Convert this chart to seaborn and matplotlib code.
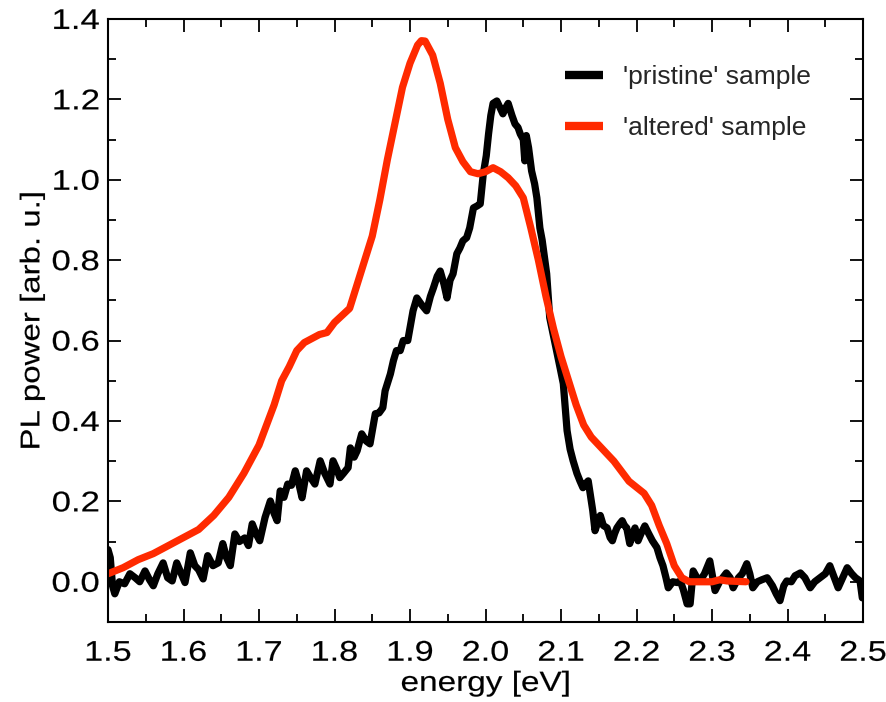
import numpy as np
import pandas as pd
import matplotlib
matplotlib.use("Agg")
import matplotlib.pyplot as plt
import seaborn as sns
from matplotlib.ticker import MultipleLocator
from matplotlib.patheffects import AbstractPathEffect
from matplotlib.transforms import Affine2D

# ---- data ----
pristine_energy = [
    1.500, 1.503, 1.506, 1.509, 1.515, 1.522, 1.529, 1.536, 1.542, 1.549, 1.555, 1.560,
    1.566, 1.573, 1.579, 1.585, 1.591, 1.597, 1.602, 1.609, 1.615, 1.620, 1.626, 1.632,
    1.639, 1.646, 1.652, 1.657, 1.662, 1.668, 1.674, 1.681, 1.686, 1.691, 1.696, 1.701,
    1.708, 1.715, 1.720, 1.724, 1.728, 1.733, 1.738, 1.743, 1.748, 1.752, 1.757, 1.763,
    1.768, 1.774, 1.781, 1.787, 1.794, 1.798, 1.803, 1.807, 1.812, 1.818, 1.821, 1.826,
    1.830, 1.836, 1.842, 1.847, 1.854, 1.859, 1.864, 1.867, 1.874, 1.878, 1.882, 1.887,
    1.891, 1.897, 1.904, 1.909, 1.915, 1.922, 1.927, 1.931, 1.936, 1.940, 1.945, 1.949,
    1.953, 1.957, 1.962, 1.966, 1.970, 1.975, 1.979, 1.984, 1.989, 1.993, 1.997, 2.001,
    2.004, 2.007, 2.010, 2.015, 2.019, 2.023, 2.027, 2.030, 2.035, 2.039, 2.043, 2.046,
    2.050, 2.052, 2.054, 2.057, 2.061, 2.065, 2.068, 2.072, 2.075, 2.081, 2.085, 2.088,
    2.094, 2.099, 2.103, 2.108, 2.112, 2.116, 2.121, 2.125, 2.129, 2.133, 2.136, 2.142,
    2.145, 2.149, 2.152, 2.156, 2.161, 2.165, 2.168, 2.171, 2.174, 2.178, 2.181, 2.184,
    2.187, 2.191, 2.195, 2.198, 2.202, 2.206, 2.211, 2.216, 2.221, 2.227, 2.231, 2.235,
    2.239, 2.242, 2.248, 2.254, 2.258, 2.262, 2.267, 2.271, 2.275, 2.280, 2.284, 2.290,
    2.297, 2.304, 2.310, 2.319, 2.324, 2.328, 2.335, 2.340, 2.346, 2.350, 2.354, 2.360,
    2.366, 2.373, 2.380, 2.385, 2.390, 2.395, 2.399, 2.405, 2.410, 2.417, 2.423, 2.430,
    2.436, 2.443, 2.450, 2.456, 2.462, 2.467, 2.473, 2.479, 2.485, 2.490, 2.496, 2.499,
]
pristine_power = [
    0.080, 0.060, -0.010, -0.030, 0.000, -0.005, 0.020, 0.010, 0.000, 0.027, 0.005, -0.010,
    0.020, 0.047, 0.010, 0.002, 0.047, 0.020, -0.002, 0.072, 0.040, 0.030, 0.007, 0.065,
    0.040, 0.047, 0.095, 0.060, 0.040, 0.119, 0.100, 0.109, 0.090, 0.144, 0.120, 0.102,
    0.160, 0.201, 0.170, 0.152, 0.226, 0.210, 0.243, 0.240, 0.276, 0.250, 0.209, 0.276,
    0.260, 0.243, 0.301, 0.270, 0.243, 0.301, 0.280, 0.259, 0.270, 0.284, 0.333, 0.310,
    0.326, 0.368, 0.350, 0.343, 0.418, 0.420, 0.433, 0.475, 0.517, 0.550, 0.575, 0.575,
    0.600, 0.600, 0.674, 0.706, 0.690, 0.674, 0.710, 0.731, 0.760, 0.773, 0.740, 0.706,
    0.750, 0.766, 0.816, 0.830, 0.848, 0.856, 0.880, 0.930, 0.935, 0.940, 1.014, 1.060,
    1.114, 1.160, 1.190, 1.196, 1.180, 1.164, 1.180, 1.190, 1.160, 1.139, 1.130, 1.114,
    1.100, 1.047, 1.110, 1.080, 1.022, 0.990, 0.955, 0.880, 0.850, 0.766, 0.657, 0.630,
    0.575, 0.530, 0.493, 0.376, 0.330, 0.301, 0.270, 0.251, 0.234, 0.245, 0.251, 0.177,
    0.127, 0.150, 0.165, 0.140, 0.134, 0.110, 0.102, 0.120, 0.134, 0.145, 0.152, 0.140,
    0.134, 0.095, 0.120, 0.134, 0.102, 0.120, 0.139, 0.120, 0.102, 0.085, 0.060, 0.040,
    0.010, -0.015, 0.000, -0.002, 0.002, -0.020, -0.055, -0.055, 0.027, 0.010, 0.002, 0.020,
    0.052, -0.022, 0.000, 0.022, 0.010, -0.015, 0.010, 0.020, 0.045, 0.020, -0.015, 0.000,
    0.005, 0.010, -0.010, -0.030, -0.047, -0.010, 0.002, 0.000, 0.015, 0.022, 0.010, -0.015,
    0.000, 0.010, 0.020, 0.040, 0.010, -0.015, 0.010, 0.035, 0.020, 0.010, 0.002, -0.040,
]

altered_energy = [
    1.50, 1.52, 1.54, 1.56, 1.58, 1.60, 1.62, 1.64, 1.66, 1.68, 1.70, 1.72, 1.73, 1.74,
    1.75, 1.76, 1.78, 1.79, 1.80, 1.82, 1.83, 1.84, 1.85, 1.86, 1.87, 1.88, 1.89, 1.90,
    1.91, 1.915, 1.92, 1.93, 1.94, 1.95, 1.96, 1.97, 1.98, 1.99, 2.00, 2.01, 2.02, 2.03,
    2.04, 2.05, 2.06, 2.07, 2.08, 2.09, 2.10, 2.11, 2.12, 2.13, 2.14, 2.15, 2.16, 2.17,
    2.18, 2.19, 2.20, 2.21, 2.22, 2.23, 2.24, 2.25, 2.26, 2.27, 2.28, 2.30, 2.31, 2.32,
    2.345,
]
altered_power = [
    0.020, 0.035, 0.055, 0.070, 0.090, 0.110, 0.130, 0.165, 0.210, 0.270, 0.340, 0.440,
    0.500, 0.535, 0.575, 0.595, 0.615, 0.620, 0.645, 0.680, 0.740, 0.800, 0.860, 0.950,
    1.050, 1.140, 1.230, 1.290, 1.335, 1.346, 1.345, 1.310, 1.240, 1.150, 1.080, 1.045,
    1.020, 1.015, 1.020, 1.030, 1.020, 1.005, 0.985, 0.955, 0.880, 0.800, 0.710, 0.630,
    0.560, 0.500, 0.440, 0.390, 0.360, 0.340, 0.320, 0.300, 0.275, 0.250, 0.235, 0.220,
    0.190, 0.140, 0.095, 0.040, 0.010, 0.000, 0.000, 0.000, 0.005, 0.002, 0.000,
]

series_labels = ["'pristine' sample", "'altered' sample"]
series_colors = ["#000000", "#ff2a00"]
x_ticks = [1.5, 1.6, 1.7, 1.8, 1.9, 2.0, 2.1, 2.2, 2.3, 2.4, 2.5]
y_ticks = [0.0, 0.2, 0.4, 0.6, 0.8, 1.0, 1.2, 1.4]


class HStretch(AbstractPathEffect):
    """Widen text glyphs along the text direction (the reference uses a wide face)."""

    def __init__(self, sx, anchor="center", lw=0.12):
        super().__init__()
        self.sx = sx
        self.anchor = anchor
        self.lw = lw

    def draw_path(self, renderer, gc, tpath, affine, rgbFace=None):
        ext = tpath.get_extents()
        if self.anchor == "right":
            cx = ext.x1
        elif self.anchor == "left":
            cx = ext.x0
        else:
            cx = 0.5 * (ext.x0 + ext.x1)
        t = Affine2D().translate(-cx, 0).scale(self.sx, 1.0).translate(cx, 0) + affine
        gc0 = renderer.new_gc()
        gc0.copy_properties(gc)
        gc0.set_linewidth(self.lw)
        if rgbFace is not None:
            gc0.set_foreground(rgbFace)
        gc0.set_joinstyle("round")
        renderer.draw_path(gc0, tpath, t, rgbFace)
        gc0.restore()


df = pd.concat([
    pd.DataFrame({"energy": pristine_energy, "power": pristine_power, "sample": series_labels[0]}),
    pd.DataFrame({"energy": altered_energy, "power": altered_power, "sample": series_labels[1]}),
], ignore_index=True)

sns.set_theme(style="ticks")
plt.rcParams["font.family"] = ["Liberation Sans", "DejaVu Sans"]

fig = plt.figure(figsize=(8.86, 7.02), dpi=100)
ax = fig.add_axes([0.1219, 0.114, 0.8522, 0.859])

sns.lineplot(data=df, x="energy", y="power", hue="sample", hue_order=series_labels,
             palette=dict(zip(series_labels, series_colors)), sort=False, estimator=None,
             linewidth=5.2, ax=ax, legend=True)
for ln in ax.get_lines():
    ln.set_solid_capstyle("round")
    ln.set_solid_joinstyle("round")

ax.set_xlim(1.5, 2.5)
ax.set_ylim(-0.1, 1.4)
ax.set_xticks(x_ticks)
ax.set_yticks(y_ticks)
ax.set_xticklabels([f"{v:.1f}" for v in x_ticks])
ax.set_yticklabels([f"{v:.1f}" for v in y_ticks])
ax.xaxis.set_minor_locator(MultipleLocator(0.05))
ax.yaxis.set_minor_locator(MultipleLocator(0.1))
ax.tick_params(which="both", direction="in", top=True, right=True, width=1.3, color="black")
ax.tick_params(which="major", length=9.5, labelsize=20.5, labelcolor="black")
ax.tick_params(axis="x", which="major", pad=13.5)
ax.tick_params(axis="y", which="major", pad=6)
ax.tick_params(which="minor", length=5.5)
for s in ax.spines.values():
    s.set_visible(True)
    s.set_linewidth(1.5)
    s.set_color("black")

ax.set_xlabel("energy [eV]", fontsize=20, labelpad=3, color="black")
ax.set_ylabel("PL power [arb. u.]", fontsize=19.5, color="black")
ax.yaxis.set_label_coords(-0.083, 0.5)

for t in ax.get_xticklabels():
    t.set_path_effects([HStretch(1.2, "center")])
for t in ax.get_yticklabels():
    t.set_path_effects([HStretch(1.22, "right")])
ax.xaxis.label.set_path_effects([HStretch(1.2, "center")])
ax.yaxis.label.set_path_effects([HStretch(1.22, "center")])

leg = ax.legend(loc="upper left", bbox_to_anchor=(0.605, 0.923), frameon=False,
                fontsize=19, handlelength=1.45, handletextpad=0.75, labelspacing=1.0,
                borderaxespad=0, borderpad=0)
for h in leg.get_lines():
    h.set_linewidth(6)
    h.set_solid_capstyle("butt")

fig.savefig("out.png", dpi=100)
